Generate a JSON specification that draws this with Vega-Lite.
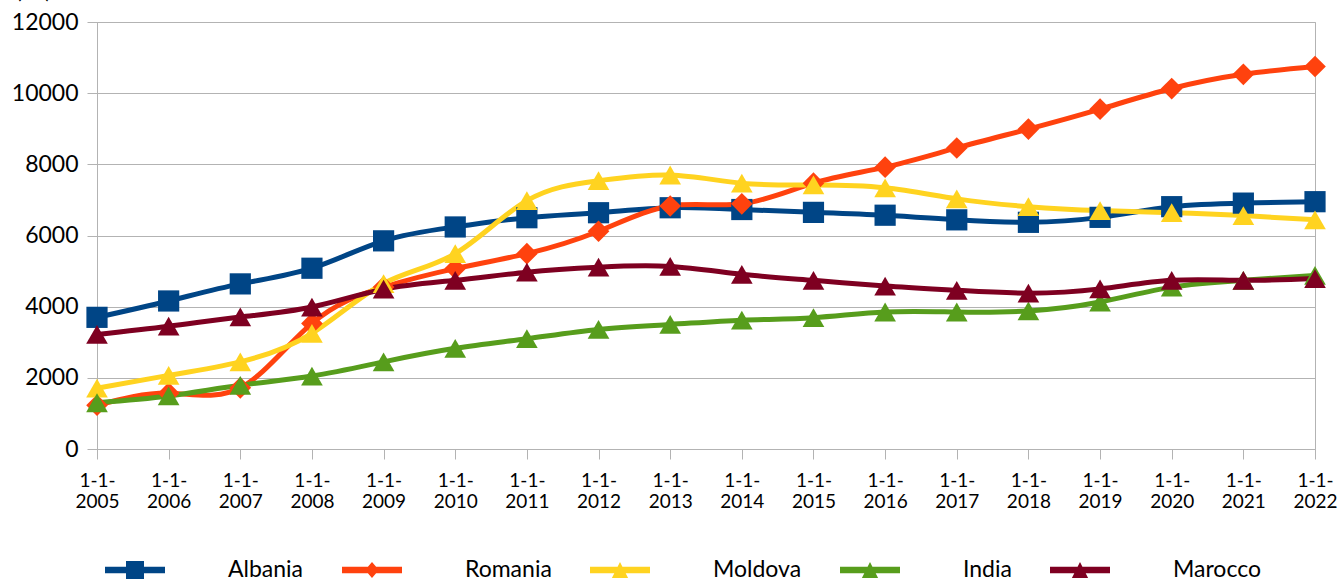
{
  "$schema": "https://vega.github.io/schema/vega-lite/v6.json",
  "autosize": "none",
  "width": 1218,
  "height": 427,
  "padding": {"left": 97, "top": 22, "right": 26, "bottom": 132},
  "background": "white",
  "config": {
    "font": "Lato",
    "view": {"stroke": "#b3b3b3", "strokeWidth": 1}
  },
  "data": {"values": [
    {"date":"1-1-2005","country":"Albania","value":3700},
    {"date":"1-1-2006","country":"Albania","value":4160},
    {"date":"1-1-2007","country":"Albania","value":4640},
    {"date":"1-1-2008","country":"Albania","value":5080},
    {"date":"1-1-2009","country":"Albania","value":5850},
    {"date":"1-1-2010","country":"Albania","value":6240},
    {"date":"1-1-2011","country":"Albania","value":6500},
    {"date":"1-1-2012","country":"Albania","value":6640},
    {"date":"1-1-2013","country":"Albania","value":6780},
    {"date":"1-1-2014","country":"Albania","value":6730},
    {"date":"1-1-2015","country":"Albania","value":6650},
    {"date":"1-1-2016","country":"Albania","value":6570},
    {"date":"1-1-2017","country":"Albania","value":6440},
    {"date":"1-1-2018","country":"Albania","value":6370},
    {"date":"1-1-2019","country":"Albania","value":6510},
    {"date":"1-1-2020","country":"Albania","value":6810},
    {"date":"1-1-2021","country":"Albania","value":6910},
    {"date":"1-1-2022","country":"Albania","value":6950},
    {"date":"1-1-2005","country":"Romania","value":1230},
    {"date":"1-1-2006","country":"Romania","value":1570},
    {"date":"1-1-2007","country":"Romania","value":1720},
    {"date":"1-1-2008","country":"Romania","value":3530},
    {"date":"1-1-2009","country":"Romania","value":4550},
    {"date":"1-1-2010","country":"Romania","value":5070},
    {"date":"1-1-2011","country":"Romania","value":5490},
    {"date":"1-1-2012","country":"Romania","value":6120},
    {"date":"1-1-2013","country":"Romania","value":6830},
    {"date":"1-1-2014","country":"Romania","value":6890},
    {"date":"1-1-2015","country":"Romania","value":7470},
    {"date":"1-1-2016","country":"Romania","value":7920},
    {"date":"1-1-2017","country":"Romania","value":8460},
    {"date":"1-1-2018","country":"Romania","value":8990},
    {"date":"1-1-2019","country":"Romania","value":9550},
    {"date":"1-1-2020","country":"Romania","value":10130},
    {"date":"1-1-2021","country":"Romania","value":10530},
    {"date":"1-1-2022","country":"Romania","value":10750},
    {"date":"1-1-2005","country":"Moldova","value":1710},
    {"date":"1-1-2006","country":"Moldova","value":2070},
    {"date":"1-1-2007","country":"Moldova","value":2450},
    {"date":"1-1-2008","country":"Moldova","value":3250},
    {"date":"1-1-2009","country":"Moldova","value":4650},
    {"date":"1-1-2010","country":"Moldova","value":5490},
    {"date":"1-1-2011","country":"Moldova","value":6980},
    {"date":"1-1-2012","country":"Moldova","value":7540},
    {"date":"1-1-2013","country":"Moldova","value":7700},
    {"date":"1-1-2014","country":"Moldova","value":7470},
    {"date":"1-1-2015","country":"Moldova","value":7420},
    {"date":"1-1-2016","country":"Moldova","value":7340},
    {"date":"1-1-2017","country":"Moldova","value":7030},
    {"date":"1-1-2018","country":"Moldova","value":6810},
    {"date":"1-1-2019","country":"Moldova","value":6700},
    {"date":"1-1-2020","country":"Moldova","value":6640},
    {"date":"1-1-2021","country":"Moldova","value":6560},
    {"date":"1-1-2022","country":"Moldova","value":6440},
    {"date":"1-1-2005","country":"India","value":1300},
    {"date":"1-1-2006","country":"India","value":1490},
    {"date":"1-1-2007","country":"India","value":1790},
    {"date":"1-1-2008","country":"India","value":2050},
    {"date":"1-1-2009","country":"India","value":2450},
    {"date":"1-1-2010","country":"India","value":2830},
    {"date":"1-1-2011","country":"India","value":3100},
    {"date":"1-1-2012","country":"India","value":3360},
    {"date":"1-1-2013","country":"India","value":3500},
    {"date":"1-1-2014","country":"India","value":3620},
    {"date":"1-1-2015","country":"India","value":3690},
    {"date":"1-1-2016","country":"India","value":3850},
    {"date":"1-1-2017","country":"India","value":3850},
    {"date":"1-1-2018","country":"India","value":3880},
    {"date":"1-1-2019","country":"India","value":4130},
    {"date":"1-1-2020","country":"India","value":4550},
    {"date":"1-1-2021","country":"India","value":4740},
    {"date":"1-1-2022","country":"India","value":4880},
    {"date":"1-1-2005","country":"Marocco","value":3220},
    {"date":"1-1-2006","country":"Marocco","value":3450},
    {"date":"1-1-2007","country":"Marocco","value":3710},
    {"date":"1-1-2008","country":"Marocco","value":3990},
    {"date":"1-1-2009","country":"Marocco","value":4490},
    {"date":"1-1-2010","country":"Marocco","value":4740},
    {"date":"1-1-2011","country":"Marocco","value":4970},
    {"date":"1-1-2012","country":"Marocco","value":5110},
    {"date":"1-1-2013","country":"Marocco","value":5130},
    {"date":"1-1-2014","country":"Marocco","value":4910},
    {"date":"1-1-2015","country":"Marocco","value":4740},
    {"date":"1-1-2016","country":"Marocco","value":4580},
    {"date":"1-1-2017","country":"Marocco","value":4460},
    {"date":"1-1-2018","country":"Marocco","value":4380},
    {"date":"1-1-2019","country":"Marocco","value":4500},
    {"date":"1-1-2020","country":"Marocco","value":4740},
    {"date":"1-1-2021","country":"Marocco","value":4740},
    {"date":"1-1-2022","country":"Marocco","value":4790}
  ]},
  "encoding": {
    "x": {
      "field": "date", "type": "ordinal", "sort": null,
      "scale": {"type": "point", "padding": 0},
      "axis": {
        "title": null, "labelAngle": 0, "grid": false,
        "domainColor": "#b3b3b3", "tickColor": "#b3b3b3", "tickSize": 10,
        "labelFont": "Lato", "labelFontSize": 19, "labelColor": "#000000",
        "labelPadding": 12, "labelLineHeight": 21, "labelBaseline": "top",
        "labelExpr": "[substring(datum.value, 0, 4), substring(datum.value, 4)]",
        "labelOverlap": false
      }
    },
    "y": {
      "field": "value", "type": "quantitative",
      "scale": {"domain": [0, 12000], "nice": false},
      "axis": {
        "values": [0, 2000, 4000, 6000, 8000, 10000, 12000],
        "format": "d",
        "title": "(\u00a0\u00a0\u00a0\u00a0)", "titleAngle": 0, "titleAlign": "left",
        "titleBaseline": "alphabetic", "titleX": -82, "titleY": -25,
        "titleFont": "Lato", "titleFontSize": 23, "titleFontWeight": "normal", "titleColor": "#000000",
        "grid": true, "gridColor": "#b3b3b3", "gridWidth": 1,
        "domainColor": "#b3b3b3", "tickColor": "#b3b3b3", "tickSize": 10,
        "labelFont": "Lato", "labelFontSize": 23, "labelColor": "#000000", "labelPadding": 9
      }
    },
    "color": {
      "field": "country", "type": "nominal",
      "scale": {
        "domain": ["Albania", "Romania", "Moldova", "India", "Marocco"],
        "range": ["#004586", "#ff420e", "#ffd320", "#579d1c", "#7e0021"]
      },
      "legend": {
        "orient": "none", "legendX": 8, "legendY": 518, "direction": "horizontal",
        "title": null, "padding": 0, "symbolSize": 3600,
        "symbolType": {"expr": "datum.value === 'Albania' ? 'M-1,-0.11H1V0.11H-1Z M-0.3,-0.3H0.3V0.3H-0.3Z' : datum.value === 'Romania' ? 'M-1,-0.11H1V0.11H-1Z M0,-0.27L0.23,0L0,0.27L-0.23,0Z' : 'M-1,-0.11H1V0.11H-1Z M0,-0.27L0.27,0.27L-0.27,0.27Z'"},
        "symbolFillColor": {"expr": "scale('color', datum.value)"},
        "symbolStrokeWidth": 0,
        "symbolOpacity": 1,
        "labelFont": "Lato", "labelFontSize": 23, "labelColor": "#000000",
        "labelOffset": 63, "columnPadding": 38, "labelLimit": 300
      }
    }
  },
  "layer": [
    {
      "mark": {"type": "line", "strokeWidth": 5, "interpolate": "natural"}
    },
    {
      "mark": {"type": "point", "filled": true, "opacity": 1},
      "encoding": {
        "shape": {
          "condition": [
            {"test": "datum.country === 'Albania'", "value": "square"},
            {"test": "datum.country === 'Romania'", "value": "diamond"}
          ],
          "value": "triangle-up"
        },
        "size": {"condition": {"test": "datum.country === 'Albania'", "value": 450}, "value": 470}
      }
    }
  ]
}
